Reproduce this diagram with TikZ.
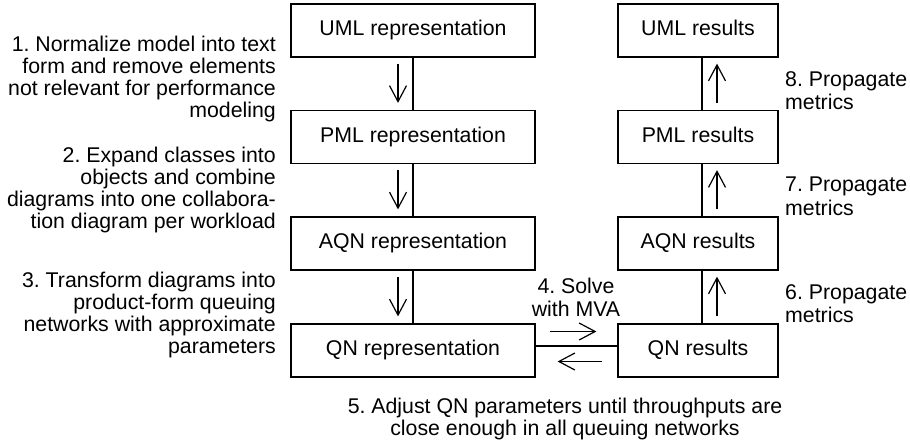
\documentclass[tikz,border=0pt]{standalone}
\usepackage{fontspec}
\setmainfont{Liberation Sans}
\usetikzlibrary{arrows.meta}

\begin{document}
\frenchspacing
\begin{tikzpicture}[x=1pt, y=-1pt,
  every node/.style={font=\fontsize{21.3}{22}\selectfont},
  box/.style={draw, line width=1.2pt, minimum height=53pt, inner sep=0pt,
              text height=15.3pt, text depth=4.4pt},
  lbox/.style={box, minimum width=244pt},
  rbox/.style={box, minimum width=160pt},
  link/.style={line width=1.2pt},
  flow/.style={line width=1.2pt, -{Straight Barb[length=16pt, width=17pt, line width=1.2pt]}},
  note/.style={inner sep=0pt},
  widenote/.style={note, font=\fontsize{21.3}{23.3}\selectfont}
]
\useasboundingbox (0,0) rectangle (910,445);

% transformation chain
\node[lbox] (umlrep) at (413,30.5)  {UML representation};
\node[lbox] (pmlrep) at (413,137)   {PML representation};
\node[lbox] (aqnrep) at (413,243.5) {AQN representation};
\node[lbox] (qnrep)  at (413,350.5) {QN representation};

% results chain
\node[rbox] (umlres) at (698,30.5)  {UML results};
\node[rbox] (pmlres) at (698,137)   {PML results};
\node[rbox] (aqnres) at (698,243.5) {AQN results};
\node[rbox] (qnres)  at (698,350.5) {QN results};

% box links
\draw[link] (umlrep.south) -- (pmlrep.north);
\draw[link] (pmlrep.south) -- (aqnrep.north);
\draw[link] (aqnrep.south) -- (qnrep.north);
\draw[link] ([xshift=4pt]umlres.south) -- ([xshift=4pt]pmlres.north);
\draw[link] ([xshift=4pt]pmlres.south) -- ([xshift=4pt]aqnres.north);
\draw[link] ([xshift=4pt]aqnres.south) -- ([xshift=4pt]qnres.north);
\draw[link] ([yshift=4.5pt]qnrep.east) -- ([yshift=4.5pt]qnres.west);

% direction arrows
\draw[flow] ([xshift=-15pt,yshift=-6pt]umlrep.south) -- ([xshift=-15pt,yshift=7pt]pmlrep.north);
\draw[flow] ([xshift=-15pt,yshift=-6pt]pmlrep.south) -- ([xshift=-15pt,yshift=7pt]aqnrep.north);
\draw[flow] ([xshift=-15pt,yshift=-6pt]aqnrep.south) -- ([xshift=-15pt,yshift=7pt]qnrep.north);
\draw[flow] ([xshift=19pt,yshift=7pt]pmlres.north) -- ([xshift=19pt,yshift=-6pt]umlres.south);
\draw[flow] ([xshift=19pt,yshift=7pt]aqnres.north) -- ([xshift=19pt,yshift=-6pt]pmlres.south);
\draw[flow] ([xshift=19pt,yshift=7pt]qnres.north) -- ([xshift=19pt,yshift=-6pt]aqnres.south);
\draw[flow] ([xshift=14pt,yshift=19pt]qnrep.east) -- ([xshift=-21pt,yshift=19pt]qnres.west);
\draw[flow] ([xshift=-15pt,yshift=-11pt]qnres.west) -- ([xshift=22pt,yshift=-11pt]qnrep.east);

% step descriptions
\node[note, align=right, anchor=north east] (s1) at (276,36)
  {1. Normalize model into text\\form and remove elements\\not relevant for performance\\modeling};
\node[note, align=right, anchor=north east] (s2) at (276,147)
  {2. Expand classes into\\objects and combine\\diagrams into one collabora-\\tion diagram per workload};
\node[note, align=right, anchor=north east] (s3) at (276,272)
  {3. Transform diagrams into\\product-form queuing\\networks with approximate\\parameters};
\node[widenote, align=center, anchor=north] (s4) at (576,278)
  {4. Solve\\with MVA};
\node[note, align=center, anchor=north] (s5) at (565,398)
  {5. Adjust QN parameters until throughputs are\\close enough in all queuing networks};
\node[widenote, align=left, anchor=north west] (s6) at (785,284)
  {6. Propagate\\metrics};
\node[widenote, align=left, anchor=north west] (s7) at (785,177)
  {7. Propagate\\metrics};
\node[widenote, align=left, anchor=north west] (s8) at (785,71)
  {8. Propagate\\metrics};
\end{tikzpicture}
\end{document}
